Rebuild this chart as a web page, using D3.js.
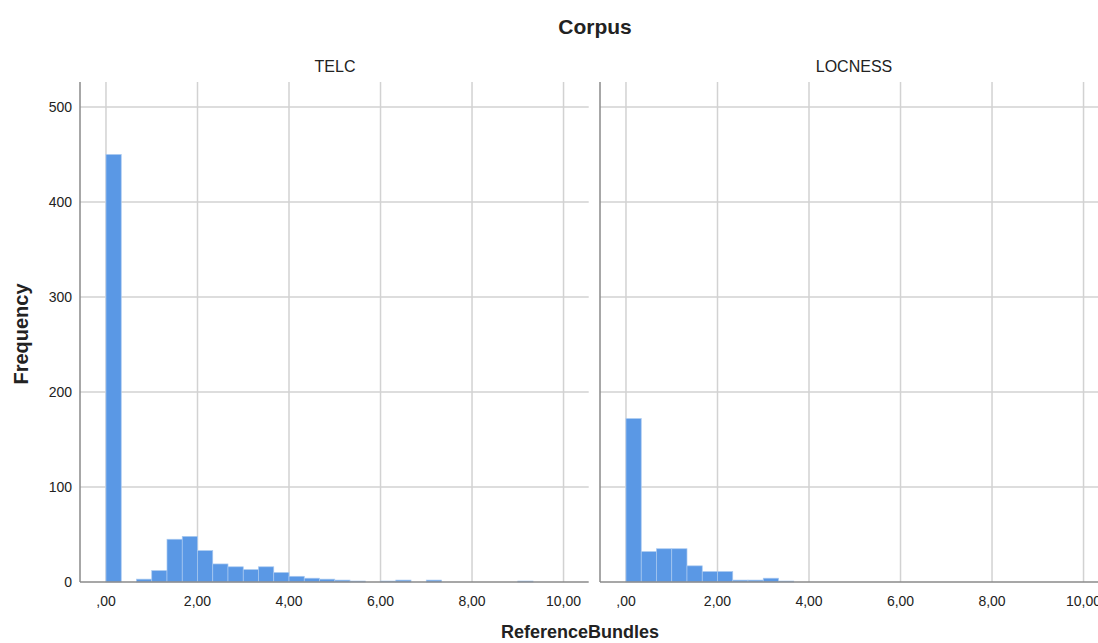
<!DOCTYPE html>
<html>
<head>
<meta charset="utf-8">
<script src="https://cdn.jsdelivr.net/npm/d3@7"></script>
<style>
    body { margin: 0; background: #fff; }
    text { font-family: Arial, "Liberation Sans", sans-serif; fill: #222; }
</style>
</head>
<body>
<div id="chart"></div>
<script>
// histogram bins are 1/3 wide, starting at 0
let binWidth = 1 / 3;
let panels = ["TELC", "LOCNESS"];
let telcCounts = [450, 0, 3, 12, 45, 48, 33, 19, 16, 13, 16, 10, 6, 4, 3, 2, 1, 0, 1, 2, 0, 2, 0, 0, 0, 0, 0, 1];
let locnessCounts = [172, 32, 35, 35, 17, 11, 11, 2, 2, 4, 1];
let yTicks = [0, 100, 200, 300, 400, 500];
let xTicks = [0, 2, 4, 6, 8, 10];

let countsByPanel = { "TELC": telcCounts, "LOCNESS": locnessCounts };

let width = 1098, height = 643;
let plotTop = 82, plotBottom = 582;
let panelX = [80, 600];
let panelW = 508.7;

let svg = d3.select("#chart").append("svg")
    .attr("width", width)
    .attr("height", height);

let y = d3.scaleLinear()
    .domain([0, 526.3])
    .range([plotBottom, plotTop]);

let fmt = function (d) {
    let s = d3.format(".2f")(d).replace(".", ",");
    return s.startsWith("0,") ? s.slice(1) : s;
};

// titles
svg.append("text")
    .attr("x", 595).attr("y", 34)
    .attr("text-anchor", "middle")
    .style("font-size", "21px").style("font-weight", "bold")
    .text("Corpus");

svg.append("text")
    .attr("x", 580).attr("y", 638)
    .attr("text-anchor", "middle")
    .style("font-size", "18px").style("font-weight", "bold")
    .text("ReferenceBundles");

svg.append("text")
    .attr("transform", "translate(28,334) rotate(-90)")
    .attr("text-anchor", "middle")
    .style("font-size", "20px").style("font-weight", "bold")
    .text("Frequency");

// y tick labels (shared, left of first panel)
svg.selectAll(".ylab")
    .data(yTicks)
    .enter().append("text")
    .attr("class", "ylab")
    .attr("x", 72)
    .attr("y", d => y(d) + 5)
    .attr("text-anchor", "end")
    .style("font-size", "14px")
    .text(d => d);

panels.forEach(function (name, pi) {
    let x0 = panelX[pi];
    let x = d3.scaleLinear()
        .domain([-0.568, 10.55])
        .range([x0, x0 + panelW]);
    let right = Math.min(x0 + panelW, width);

    let g = svg.append("g");

    // strip label
    g.append("text")
        .attr("x", pi === 0 ? 335 : 854)
        .attr("y", 72)
        .attr("text-anchor", "middle")
        .style("font-size", "16px")
        .text(name);

    // gridlines
    g.selectAll(".hgrid")
        .data(yTicks.slice(1))
        .enter().append("line")
        .attr("x1", x0).attr("x2", right)
        .attr("y1", d => y(d)).attr("y2", d => y(d))
        .attr("stroke", "#d2d2d2").attr("stroke-width", 1.5);

    g.selectAll(".vgrid")
        .data(xTicks)
        .enter().append("line")
        .attr("x1", d => x(d)).attr("x2", d => x(d))
        .attr("y1", plotTop).attr("y2", plotBottom)
        .attr("stroke", "#d2d2d2").attr("stroke-width", 1.5);

    // bars
    let counts = countsByPanel[name];
    g.selectAll(".bar")
        .data(counts.map((c, i) => ({ lo: i * binWidth, hi: (i + 1) * binWidth, c: c })).filter(d => d.c > 0))
        .enter().append("rect")
        .attr("class", "bar")
        .attr("x", d => x(d.lo))
        .attr("width", d => x(d.hi) - x(d.lo))
        .attr("y", d => y(d.c))
        .attr("height", d => plotBottom - y(d.c))
        .attr("fill", "#5a98e5")
        .attr("stroke", "#a9c9f0")
        .attr("stroke-width", 0.7);

    // axis lines
    g.append("line")
        .attr("x1", x0).attr("x2", x0)
        .attr("y1", plotTop).attr("y2", plotBottom)
        .attr("stroke", "#8a8a8a").attr("stroke-width", 1.5);
    g.append("line")
        .attr("x1", x0).attr("x2", right)
        .attr("y1", plotBottom).attr("y2", plotBottom)
        .attr("stroke", "#8a8a8a").attr("stroke-width", 1.5);

    // x tick labels
    g.selectAll(".xlab")
        .data(xTicks)
        .enter().append("text")
        .attr("x", d => x(d))
        .attr("y", 606)
        .attr("text-anchor", "middle")
        .style("font-size", "14px")
        .text(d => fmt(d));
});
</script>
</body>
</html>
